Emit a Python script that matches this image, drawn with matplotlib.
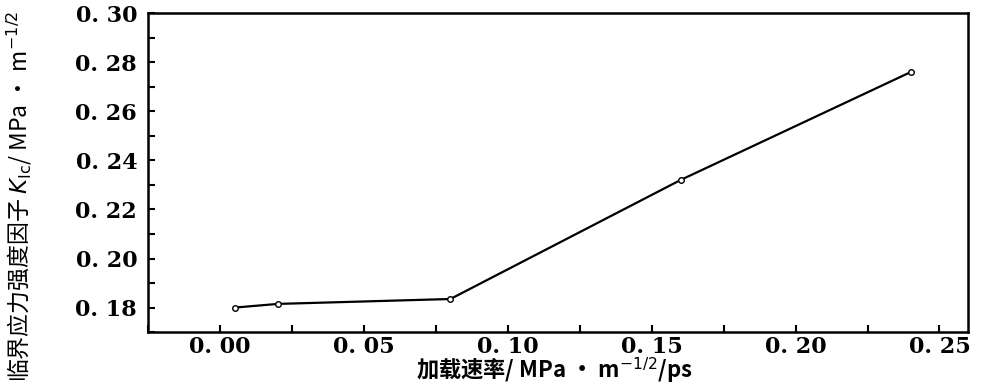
import matplotlib
matplotlib.use("Agg")
import matplotlib.pyplot as plt
from matplotlib.ticker import MultipleLocator, FixedLocator

plt.rcParams['font.family'] = ['Noto Sans CJK SC', 'DejaVu Sans']

# loading rate vs critical stress intensity factor
rate = [0.005, 0.02, 0.08, 0.16, 0.24]
kic = [0.180, 0.1815, 0.1835, 0.232, 0.276]

xticks = [0.00, 0.05, 0.10, 0.15, 0.20, 0.25]
xticklabels = ["0. 00", "0. 05", "0. 10", "0. 15", "0. 20", "0. 25"]
yticks = [0.18, 0.20, 0.22, 0.24, 0.26, 0.28, 0.30]
yticklabels = ["0. 18", "0. 20", "0. 22", "0. 24", "0. 26", "0. 28", "0. 30"]

fig = plt.figure(figsize=(9.82, 3.88), dpi=100)
ax = fig.add_axes([0.151, 0.144, 0.835, 0.822])

ax.plot(rate, kic, color='black', lw=1.6, marker='o', ms=4,
        mfc='white', mec='black', mew=1.0)

ax.set_xlim(-0.025, 0.26)
ax.set_ylim(0.17, 0.30)
ax.xaxis.set_major_locator(FixedLocator(xticks))
ax.yaxis.set_major_locator(FixedLocator(yticks))
ax.xaxis.set_minor_locator(MultipleLocator(0.025))
ax.yaxis.set_minor_locator(MultipleLocator(0.01))
tick_font = dict(family='DejaVu Serif', weight='bold', size=16)
ax.set_xticklabels(xticklabels, fontdict=tick_font)
ax.set_yticklabels(yticklabels, fontdict=tick_font)
ax.tick_params(which='both', direction='in', length=5, width=1.5,
               top=False, right=False)
ax.tick_params(axis='x', pad=3)
ax.tick_params(axis='y', pad=8)
for s in ax.spines.values():
    s.set_linewidth(1.8)

fig.text(0.565, 0.024, "加载速率/ MPa · m$^{-1/2}$/ps", fontsize=16,
         weight='bold', ha='center', va='baseline')
fig.text(0.02, 0.495, "临界应力强度因子 $K_{\\mathrm{Ic}}$/ MPa · m$^{-1/2}$",
         fontsize=16.5, rotation=90, ha='center', va='center')

fig.savefig("out.png", dpi=100)
